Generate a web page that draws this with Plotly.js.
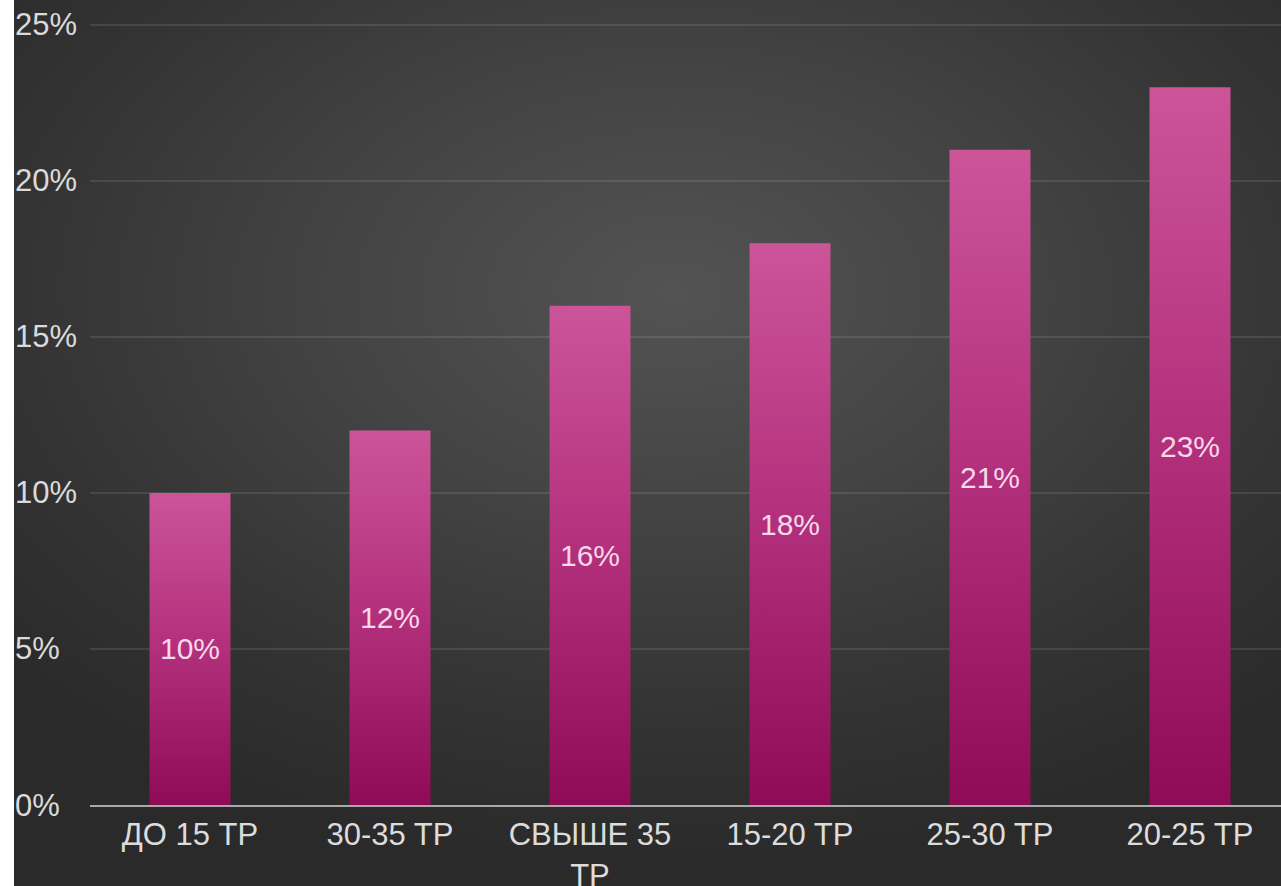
<!DOCTYPE html>
<html>
<head>
<meta charset="utf-8">
<script src="https://cdn.plot.ly/plotly-3.0.1.min.js"></script>
<style>
  html, body { margin: 0; padding: 0; background: #ffffff; overflow: hidden; }
  #chart {
    position: absolute; left: 14px; top: 0;
    width: 1267px; height: 886px;
    background: radial-gradient(ellipse 70% 65% at 52% 33%, #535353 0%, #434343 40%, #333333 75%, #2a2a2a 100%);
  }
</style>
</head>
<body>
<div id="chart"></div>
<script>
// Salary bands (thousand roubles) and share of respondents, %
const categories = ['ДО 15 TP', '30-35 TP', 'СВЫШЕ 35<br>TP', '15-20 TP', '25-30 TP', '20-25 TP'];
const shares = [10, 12, 16, 18, 21, 23];
const yTicks = [0, 5, 10, 15, 20, 25];
const yTickLabels = yTicks.map(v => v + '%');

const FONT = '"Liberation Sans", Arial, sans-serif';

const trace = {
  type: 'bar',
  x: categories,
  y: shares,
  width: 0.405,
  marker: { color: '#b02d79', line: { width: 0 } },
  text: shares.map(v => v + '%'),
  textposition: 'inside',
  insidetextanchor: 'middle',
  textangle: 0,
  constraintext: 'none',
  textfont: { family: FONT, size: 30, color: '#f6d8ea' },
  hoverinfo: 'none'
};

const layout = {
  width: 1267,
  height: 886,
  margin: { l: 76, r: 0, t: 0, b: 81, pad: 0 },
  paper_bgcolor: 'rgba(0,0,0,0)',
  plot_bgcolor: 'rgba(0,0,0,0)',
  showlegend: false,
  font: { family: FONT, size: 30, color: '#d9d9d9' },
  xaxis: {
    type: 'category',
    range: [-0.5, 5.455],
    showgrid: false,
    showline: true,
    linecolor: '#a9a9a9',
    linewidth: 2,
    ticks: '',
    ticklabelstandoff: 1,
    tickfont: { family: FONT, size: 31, color: '#dcdcdc' },
    fixedrange: true
  },
  yaxis: {
    range: [0, 25.8],
    tickvals: yTicks,
    showticklabels: false,
    showgrid: true,
    gridcolor: 'rgba(255,255,255,0.10)',
    gridwidth: 2,
    zeroline: false,
    fixedrange: true
  },
  annotations: yTicks.map((v, i) => ({
    xref: 'paper', yref: 'y',
    x: 0, y: v,
    xanchor: 'left', yanchor: 'middle',
    xshift: -77,
    showarrow: false,
    text: yTickLabels[i],
    font: { family: FONT, size: 31, color: '#dadada' }
  }))
};

Plotly.newPlot('chart', [trace], layout, { staticPlot: true, displayModeBar: false }).then(gd => {
  // vertical pink-to-magenta fill for each bar
  const svg = gd.querySelector('svg.main-svg');
  const ns = 'http://www.w3.org/2000/svg';
  let defs = svg.querySelector('defs');
  if (!defs) { defs = document.createElementNS(ns, 'defs'); svg.insertBefore(defs, svg.firstChild); }
  const grad = document.createElementNS(ns, 'linearGradient');
  grad.setAttribute('id', 'barFill');
  grad.setAttribute('x1', '0'); grad.setAttribute('y1', '0');
  grad.setAttribute('x2', '0'); grad.setAttribute('y2', '1');
  [['0%', '#cc5499'], ['50%', '#b22f7b'], ['100%', '#8f0b57']].forEach(([o, c]) => {
    const s = document.createElementNS(ns, 'stop');
    s.setAttribute('offset', o);
    s.setAttribute('stop-color', c);
    grad.appendChild(s);
  });
  defs.appendChild(grad);
  gd.querySelectorAll('.bars .point path').forEach(p => { p.style.fill = 'url(#barFill)'; });
});
</script>
</body>
</html>
